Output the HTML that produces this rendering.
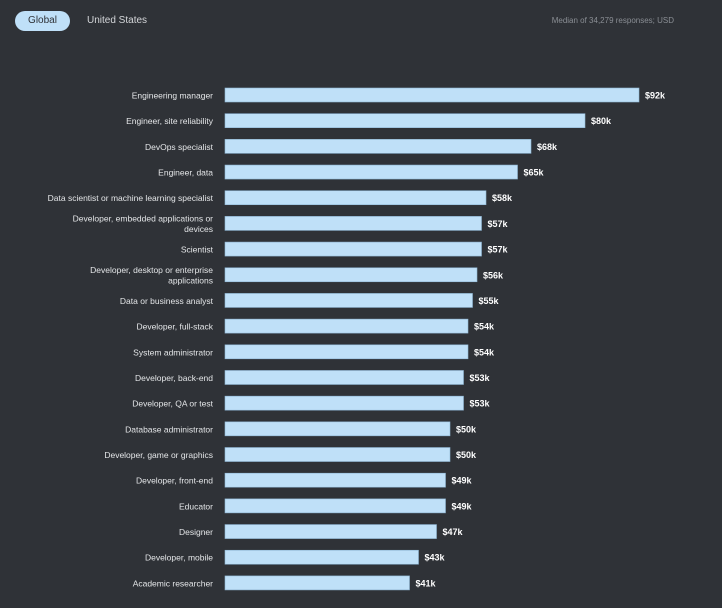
<!DOCTYPE html>
<html><head><meta charset="utf-8"><style>
body{margin:0;width:722px;height:608px;background:#2f3237;font-family:"Liberation Sans",sans-serif;overflow:hidden;position:relative}
.pill{position:absolute;left:15px;top:11px;width:55px;height:20px;border-radius:10px;background:#bfe0f8;color:#2f3237;font-size:10px;line-height:20px;text-align:center}
.tab{position:absolute;left:87px;top:15px;color:#d4d6d9;font-size:10px}
.note{position:absolute;right:48px;top:16px;color:#8a8e94;font-size:8px}
</style></head><body>
<div class="pill">Global</div>
<div class="tab">United States</div>
<div class="note">Median of 34,279 responses; USD</div>
<svg id="chart" width="722" height="608" style="position:absolute;left:0;top:0"></svg>
<script>
const categories=["Engineering manager","Engineer, site reliability","DevOps specialist","Engineer, data","Data scientist or machine learning specialist","Developer, embedded applications or|devices","Scientist","Developer, desktop or enterprise|applications","Data or business analyst","Developer, full-stack","System administrator","Developer, back-end","Developer, QA or test","Database administrator","Developer, game or graphics","Developer, front-end","Educator","Designer","Developer, mobile","Academic researcher"];
const values=[92,80,68,65,58,57,57,56,55,54,54,53,53,50,50,49,49,47,43,41];
const valueLabels=["$92k","$80k","$68k","$65k","$58k","$57k","$57k","$56k","$55k","$54k","$54k","$53k","$53k","$50k","$50k","$49k","$49k","$47k","$43k","$41k"];
const svg=document.getElementById('chart');
const NS='http://www.w3.org/2000/svg';
const x0=225,kx=4.5;
function xs(v){return x0+v*kx;}
function ys(i){return 95+i*25.68;}
categories.forEach((c,i)=>{
  const y=ys(i);
  const r=document.createElementNS(NS,'rect');
  r.setAttribute('x',x0);r.setAttribute('y',y-7);r.setAttribute('width',xs(values[i])-x0);r.setAttribute('height',14);
  r.setAttribute('fill','#bfe0f8');r.setAttribute('stroke','#8fb6d4');r.setAttribute('stroke-width','0.6');
  
  
  svg.appendChild(r);
  const lines=c.split('|');
  lines.forEach((ln,j)=>{
    const t=document.createElementNS(NS,'text');
    t.setAttribute('x',213);t.setAttribute('y',y+3.5+(j-(lines.length-1)/2)*10.5);
    t.setAttribute('text-anchor','end');t.setAttribute('fill','#e4e6e8');t.setAttribute('font-size','8.5');
    t.textContent=ln;
    
    
    svg.appendChild(t);
  });
  const v=document.createElementNS(NS,'text');
  v.setAttribute('x',xs(values[i])+6);v.setAttribute('y',y+3.5);
  v.setAttribute('fill','#ffffff');v.setAttribute('font-size','9');v.setAttribute('font-weight','bold');
  v.textContent=valueLabels[i];
  
  
  svg.appendChild(v);
});
</script>
</body></html>
